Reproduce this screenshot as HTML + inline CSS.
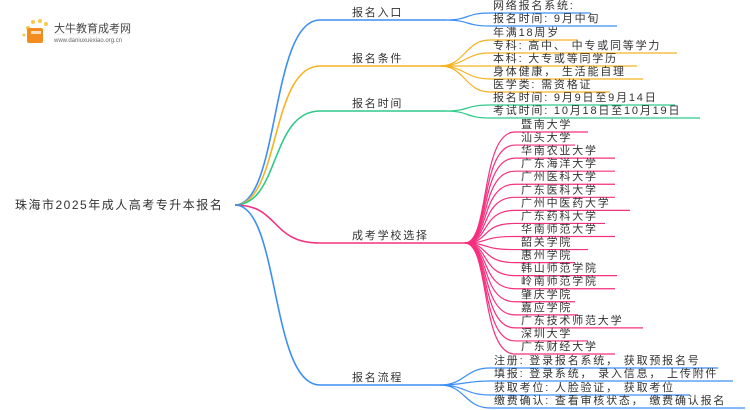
<!DOCTYPE html>
<html><head><meta charset="utf-8"><style>
html,body{margin:0;padding:0;background:#fff;width:750px;height:410px;overflow:hidden}
svg{display:block}
text{font-family:"Liberation Sans","Noto Sans CJK SC",sans-serif;font-size:11px;letter-spacing:1.8px;fill:#333}
</style></head><body>
<svg id="s" width="750" height="410" xmlns="http://www.w3.org/2000/svg">
<g>
<circle cx="28" cy="28" r="2" fill="#f7c948"/><circle cx="33" cy="22" r="2" fill="#f7c948"/><circle cx="40" cy="21" r="2" fill="#f7c948"/><circle cx="46" cy="24" r="2" fill="#f7c948"/><circle cx="24" cy="35" r="1.5" fill="#f7c948"/>
<rect x="27" y="28" width="16" height="15" rx="2" fill="#f28c1e"/><rect x="31" y="31" width="10" height="3" fill="#fff" opacity=".7"/>
<text x="54" y="32" style="font-size:11px;letter-spacing:0;fill:#444">大牛教育成考网</text>
<text x="54" y="42" style="font-size:6px;letter-spacing:0;fill:#666">www.daniuxuexiao.org.cn</text>
<line x1="54" y1="34" x2="130" y2="34" stroke="#ddd" stroke-width=".5"/>
</g>
<text x="15" y="209" style="font-size:12px;letter-spacing:1.5px">珠海市2025年成人高考专升本报名</text>
<g id="g"></g>
</svg>
<script>
var g=document.getElementById('g'),NS='http://www.w3.org/2000/svg';
function p(d,c,w){var e=document.createElementNS(NS,'path');e.setAttribute('d',d);e.setAttribute('stroke',c);e.setAttribute('stroke-width',w||1.5);e.setAttribute('fill','none');g.appendChild(e);}
function t(x,y,s){var e=document.createElementNS(NS,'text');e.setAttribute('x',x);e.setAttribute('y',y);e.textContent=s;g.appendChild(e);}
var ox=235,oy=205;
var B=[
 {c:'#3d8ff5',y:20,l:'报名入口',ex:445,cx:490,tx:493,k:[['网络报名系统:',13,590],['报名时间: 9月中旬',26,617]]},
 {c:'#f5b324',y:66,l:'报名条件',ex:440,cx:490,tx:493,k:[['年满18周岁',40,577],['专科: 高中、 中专或同等学力',53,677],['本科: 大专或等同学历',66,637],['身体健康， 生活能自理',79,643],['医学类: 需资格证',92,610]]},
 {c:'#2fc98a',y:111,l:'报名时间',ex:445,cx:490,tx:493,k:[['报名时间: 9月9日至9月14日',105,675],['考试时间: 10月18日至10月19日',118,700]]},
 {c:'#f5307f',y:243,l:'成考学校选择',ex:465,cx:505,tx:521,k:[]},
 {c:'#3d8ff5',y:385,l:'报名流程',ex:440,cx:490,tx:494,k:[['注册: 登录报名系统， 获取预报名号',368,718],['填报: 登录系统， 录入信息， 上传附件',381,733],['获取考位: 人脸验证， 获取考位',395,690],['缴费确认: 查看审核状态， 缴费确认报名',408,745]]}
];
var sch=[['暨南大学',588],['汕头大学',575],['华南农业大学',615],['广东海洋大学',615],['广州医科大学',615],['广东医科大学',615],['广州中医药大学',630],['广东药科大学',605],['华南师范大学',615],['韶关学院',588],['惠州学院',575],['韩山师范学院',617],['岭南师范学院',615],['肇庆学院',575],['嘉应学院',578],['广东技术师范大学',643],['深圳大学',588],['广东财经大学',615]];
sch.forEach(function(s,i){B[3].k.push([s[0],132+i*13.06,s[1]]);});
B.forEach(function(b){
 var sx=320;
 p('M'+ox+' '+oy+' C'+(ox+45)+' '+oy+' '+(sx-50)+' '+b.y+' '+sx+' '+b.y+' L'+b.ex+' '+b.y,b.c,1.6);
 t(352,b.y-4,b.l);
 b.k.forEach(function(k){
  var y=k[1];
  var d=b.c=='#f5307f'?'M'+b.ex+' '+b.y+' C'+(b.ex+25)+' '+b.y+' '+(b.cx-25)+' '+y+' '+(b.cx+10)+' '+y+' L'+k[2]+' '+y
   :'M'+b.ex+' '+b.y+' C'+(b.ex+25)+' '+b.y+' '+(b.cx-25)+' '+y+' '+b.cx+' '+y+' L'+k[2]+' '+y;
  p(d,b.c,1.2);
  t(b.tx,y-4,k[0]);
 });
});
</script>
</body></html>
